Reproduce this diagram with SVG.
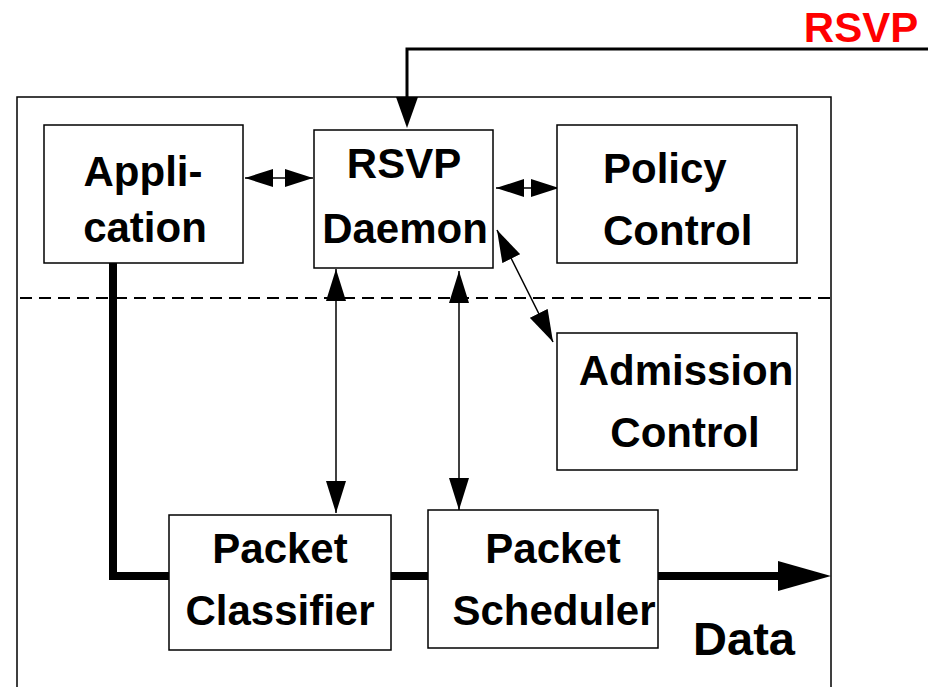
<svg xmlns="http://www.w3.org/2000/svg" width="934" height="687" viewBox="0 0 934 687">
  <style>
    .box { fill: #fff; stroke: #000; stroke-width: 1.5; }
    .lbl { font-family: "Liberation Sans", Arial, sans-serif; font-weight: bold; font-size: 42px; fill: #000; text-anchor: middle; }
    .left { text-anchor: start; }
    .thin { stroke: #000; stroke-width: 1.5; fill: none; }
  </style>
  <defs>
    <marker id="ah" markerUnits="userSpaceOnUse" markerWidth="28" markerHeight="18" refX="28" refY="9" orient="auto-start-reverse">
      <path d="M0,0 L28,9 L0,18 z" fill="#000"/>
    </marker>
    <marker id="ahv" markerUnits="userSpaceOnUse" markerWidth="32" markerHeight="20" refX="32" refY="10" orient="auto-start-reverse">
      <path d="M0,0 L32,10 L0,20 z" fill="#000"/>
    </marker>
  </defs>

  <!-- host boundary -->
  <rect x="17" y="97" width="814" height="600" fill="none" stroke="#000" stroke-width="1.5"/>

  <!-- user / kernel separator -->
  <line x1="20" y1="298" x2="831" y2="298" stroke="#000" stroke-width="2" stroke-dasharray="12 7"/>

  <g id="connectors">
    <!-- incoming RSVP messages -->
    <polyline points="928,49 407,49 407,100" fill="none" stroke="#000" stroke-width="3"/>
    <polygon points="396,97 418,97 407,128" fill="#000"/>
    <!-- data path -->
    <polyline points="113,263 113,576 780,576" fill="none" stroke="#000" stroke-width="8"/>
    <polygon points="778,561 831,576 778,591" fill="#000"/>
    <!-- control arrows -->
    <line class="thin" x1="245" y1="178" x2="313" y2="178" marker-start="url(#ah)" marker-end="url(#ah)"/>
    <line class="thin" x1="496" y1="188" x2="559" y2="188" marker-start="url(#ah)" marker-end="url(#ah)"/>
    <line class="thin" x1="497" y1="230" x2="553" y2="342" marker-start="url(#ahv)" marker-end="url(#ahv)"/>
    <line class="thin" x1="336" y1="269" x2="336" y2="513" marker-start="url(#ahv)" marker-end="url(#ahv)"/>
    <line class="thin" x1="459" y1="271" x2="459" y2="510" marker-start="url(#ahv)" marker-end="url(#ahv)"/>
  </g>

  <g id="application">
    <rect class="box" x="44" y="125" width="199" height="138"/>
    <text class="lbl" x="143" y="186">Appli-</text>
    <text class="lbl" x="145" y="242">cation</text>
  </g>

  <g id="rsvp-daemon">
    <rect class="box" x="314" y="130" width="179" height="138"/>
    <text class="lbl" x="404" y="178">RSVP</text>
    <text class="lbl" x="405" y="243">Daemon</text>
  </g>

  <g id="policy-control">
    <rect class="box" x="557" y="125" width="240" height="138"/>
    <text class="lbl left" x="603" y="183">Policy</text>
    <text class="lbl left" x="603" y="245">Control</text>
  </g>

  <g id="admission-control">
    <rect class="box" x="557" y="333" width="240" height="137"/>
    <text class="lbl" x="686" y="385">Admission</text>
    <text class="lbl" x="685" y="447">Control</text>
  </g>

  <g id="packet-classifier">
    <rect class="box" x="169" y="515" width="222" height="135"/>
    <text class="lbl" x="280" y="563">Packet</text>
    <text class="lbl" x="280" y="625">Classifier</text>
  </g>

  <g id="packet-scheduler">
    <rect class="box" x="428" y="510" width="230" height="138"/>
    <text class="lbl" x="553" y="563">Packet</text>
    <text class="lbl" x="554" y="625">Scheduler</text>
  </g>

  <text class="lbl" x="744" y="655" style="font-size:47px">Data</text>
  <text class="lbl" x="861" y="42" style="fill:#ff0000">RSVP</text>
</svg>
